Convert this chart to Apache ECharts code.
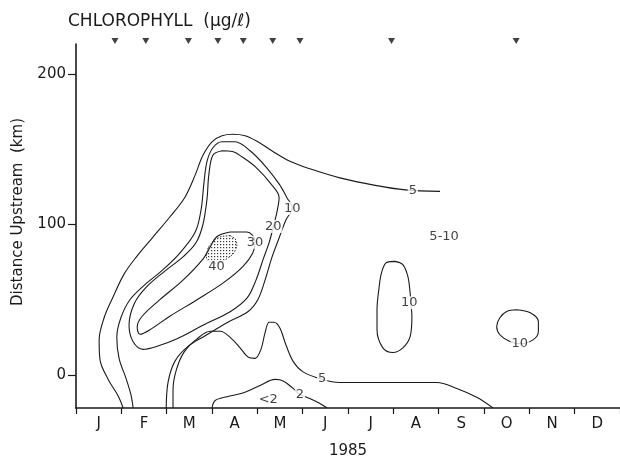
<!DOCTYPE html>
<html>
<head>
<meta charset="utf-8">
<script src="https://cdn.jsdelivr.net/npm/echarts@6/dist/echarts.min.js"></script>
<style>
  html, body { margin: 0; padding: 0; background: #fff; }
  #chart { width: 620px; height: 465px; }
</style>
</head>
<body>
<div id="chart"></div>
<script>
// Axis content
const months = ['J', 'F', 'M', 'A', 'M', 'J', 'J', 'A', 'S', 'O', 'N', 'D'];
const yTickValues = [0, 100, 200];
const yearLabel = '1985';

// Sampling dates (months from 1 Jan), marked along the top
const samplingDates = [0.86, 1.54, 2.48, 3.13, 3.69, 4.34, 4.94, 6.96, 9.71];

// Chlorophyll isopleths, points are [month, km upstream]
const iso5Upper = [
  [1.04, -22], [0.93, -14], [0.71, -3], [0.53, 10], [0.51, 23], [0.62, 38], [0.82, 52],
  [1.06, 67], [1.32, 78], [1.68, 91], [2.07, 105], [2.40, 118], [2.63, 133], [2.80, 146],
  [3.00, 155], [3.22, 159], [3.46, 160], [3.73, 159], [4.01, 155], [4.32, 149], [4.72, 142],
  [5.16, 137], [5.82, 131], [6.60, 126], [7.26, 123], [8.03, 122]
];
const iso5Lower = [
  [2.14, -22], [2.14, -10], [2.21, 3], [2.38, 15], [2.67, 24], [2.96, 29], [3.18, 29],
  [3.40, 25], [3.62, 18], [3.79, 12], [3.95, 11], [4.08, 17], [4.17, 28], [4.26, 35],
  [4.37, 35], [4.50, 31], [4.63, 20], [4.79, 9], [5.01, 2], [5.43, -3], [5.82, -5],
  [6.77, -5], [7.52, -5], [7.96, -5], [8.40, -9], [8.85, -15], [9.20, -22]
];
const iso10 = [
  [1.26, -22], [1.21, -13], [1.10, -2], [0.95, 11], [0.90, 25], [0.99, 38], [1.19, 50],
  [1.52, 60], [1.92, 70], [2.29, 81], [2.63, 95], [2.76, 110], [2.82, 127], [2.89, 142],
  [3.02, 151], [3.22, 155], [3.51, 155], [3.84, 149], [4.17, 139], [4.48, 127], [4.65, 118],
  [4.77, 111], [4.63, 103], [4.48, 91], [4.32, 78], [4.17, 63], [4.01, 50], [3.79, 42],
  [3.35, 35], [2.85, 26], [2.47, 19], [2.18, 9], [2.03, -5], [1.99, -22]
];
const iso20 = [
  [3.22, 149], [3.02, 146], [2.93, 133], [2.89, 117], [2.80, 100], [2.65, 88], [2.38, 79],
  [1.96, 69], [1.54, 58], [1.28, 47], [1.17, 33], [1.26, 22], [1.48, 17], [1.79, 19],
  [2.23, 24], [2.80, 33], [3.40, 42], [3.77, 51], [3.97, 63], [4.13, 77], [4.26, 88],
  [4.35, 98], [4.43, 108], [4.48, 118], [4.30, 127], [3.97, 138], [3.66, 145], [3.45, 148.5],
  [3.22, 149]
];
const iso30 = [
  [3.40, 95], [3.77, 95], [3.95, 89], [3.90, 81], [3.68, 72], [3.24, 61], [2.67, 50],
  [2.07, 39], [1.63, 30], [1.41, 27], [1.35, 32], [1.46, 39], [1.85, 50], [2.36, 63],
  [2.80, 77], [2.96, 85], [3.11, 92], [3.40, 95]
];
const iso40 = [
  [3.40, 92.7], [3.53, 89.3], [3.51, 82.7], [3.33, 77.3], [3.09, 74], [2.91, 76],
  [2.89, 81.3], [2.98, 87.3], [3.15, 91.3], [3.40, 92.7]
];
const iso10Summer = [
  [7.04, 75.5], [7.21, 73.3], [7.32, 65.5], [7.37, 54.7], [7.39, 46.7], [7.41, 38.9],
  [7.37, 25.5], [7.21, 18], [6.99, 14.9], [6.77, 18], [6.64, 30], [6.64, 43.3],
  [6.68, 56.7], [6.74, 68], [6.85, 74.7], [7.04, 75.5]
];
const iso10Autumn = [
  [9.72, 43.3], [10.02, 41.3], [10.20, 35.5], [10.20, 28.9], [10.08, 23.3], [9.79, 20.7],
  [9.57, 22.2], [9.35, 26.7], [9.28, 32.2], [9.35, 38], [9.50, 42.2], [9.72, 43.3]
];
const iso2 = [
  [3.00, -22], [3.07, -17], [3.33, -14.5], [3.68, -12], [4.06, -7], [4.39, -3], [4.57, -4],
  [4.79, -9], [4.94, -13], [5.10, -15], [5.32, -18], [5.54, -22]
];

// Isopleth labels: text and anchor [month, km]
const isoLabelText = ['5', '10', '20', '30', '40', '5-10', '10', '10', '5', '2', '<2'];
const isoLabelAt = [
  [7.43, 122.7], [4.77, 110.7], [4.35, 98.7], [3.95, 88.2], [3.10, 72.2], [8.12, 92],
  [7.35, 48], [9.79, 20.7], [5.43, -2.7], [4.94, -13.3], [4.24, -16.7]
];

const INK = '#1a1a1a';
const FONT = '"DejaVu Sans", sans-serif';

// Stipple used inside the 40 isopleth
function stipple() {
  const c = document.createElement('canvas');
  c.width = 3; c.height = 3;
  const g = c.getContext('2d');
  g.fillStyle = '#333';
  g.fillRect(1, 1, 1.2, 1.2);
  return c;
}

function isoLine(name, pts) {
  return {
    type: 'line', name: name, data: pts, xAxisIndex: 0, yAxisIndex: 0,
    showSymbol: false, symbol: 'none', smooth: 0.35, silent: true, z: 2,
    lineStyle: { color: INK, width: 1.1 }
  };
}

const chart = echarts.init(document.getElementById('chart'), null, { renderer: 'canvas' });
const pattern = stipple();

chart.setOption({
  animation: false,
  backgroundColor: '#fff',
  textStyle: { fontFamily: FONT, color: INK },
  title: {
    text: 'CHLOROPHYLL  (\u00b5g/\u2113)',
    left: 63, top: 8,
    textStyle: { fontFamily: FONT, fontSize: 17, fontWeight: 'normal', color: INK }
  },
  grid: { left: 76, right: 0, top: 44, bottom: 57 },
  xAxis: [
    {
      type: 'value', min: 0, max: 12, interval: 1,
      axisLine: { onZero: false, lineStyle: { color: INK, width: 1.6 } },
      axisTick: { show: true, length: 6, lineStyle: { color: INK, width: 1.2 } },
      axisLabel: { show: false },
      splitLine: { show: false }
    },
    {
      type: 'category', data: months, boundaryGap: true, position: 'bottom',
      axisLine: { show: false, onZero: false }, axisTick: { show: false },
      axisLabel: { margin: 9, fontSize: 15, color: INK, fontFamily: FONT },
      name: yearLabel, nameLocation: 'middle', nameGap: 36,
      nameTextStyle: { fontSize: 15, color: INK, fontFamily: FONT }
    }
  ],
  yAxis: {
    type: 'value', min: -22, max: 220,
    axisLine: { show: true, onZero: false, lineStyle: { color: INK, width: 1.6 } },
    axisTick: { show: true, length: 8, customValues: yTickValues, lineStyle: { color: INK, width: 1.2 } },
    axisLabel: { customValues: yTickValues, margin: 10, fontSize: 15, color: INK, fontFamily: FONT },
    splitLine: { show: false }
  },
  graphic: [{
    type: 'text', x: 18, y: 212, rotation: Math.PI / 2,
    style: {
      text: 'Distance Upstream  (km)', fontSize: 15, fontFamily: FONT, fill: INK,
      align: 'center', verticalAlign: 'middle'
    }
  }],
  series: [
    isoLine('5 upper', iso5Upper),
    isoLine('5 lower', iso5Lower),
    isoLine('10', iso10),
    isoLine('20', iso20),
    isoLine('30', iso30),
    isoLine('10 summer', iso10Summer),
    isoLine('10 autumn', iso10Autumn),
    isoLine('2', iso2),
    {
      type: 'custom', name: '40', xAxisIndex: 0, yAxisIndex: 0, silent: true, z: 3,
      data: [0],
      renderItem: function (params, api) {
        const pts = iso40.map(function (p) { return api.coord(p); });
        return {
          type: 'polygon',
          shape: { points: pts, smooth: 0.5 },
          style: { fill: { image: pattern, repeat: 'repeat' }, stroke: '#333', lineWidth: 1, lineDash: [1.5, 1.5] }
        };
      }
    },
    {
      type: 'scatter', name: 'isopleth labels', xAxisIndex: 0, yAxisIndex: 0, silent: true, z: 5,
      symbolSize: 0,
      data: isoLabelAt.map(function (p, i) {
        return { value: p, label: { formatter: isoLabelText[i] } };
      }),
      label: {
        show: true, position: 'inside', fontSize: 13, color: '#111', fontFamily: FONT,
        backgroundColor: '#fff', padding: [0, 1]
      }
    },
    {
      type: 'scatter', name: 'sampling dates', xAxisIndex: 0, yAxisIndex: 0, silent: true, z: 5,
      clip: false, symbol: 'triangle', symbolRotate: 180, symbolSize: [7, 6],
      itemStyle: { color: '#111' },
      data: samplingDates.map(function (m) { return [m, 222]; })
    }
  ]
});
</script>
</body>
</html>
